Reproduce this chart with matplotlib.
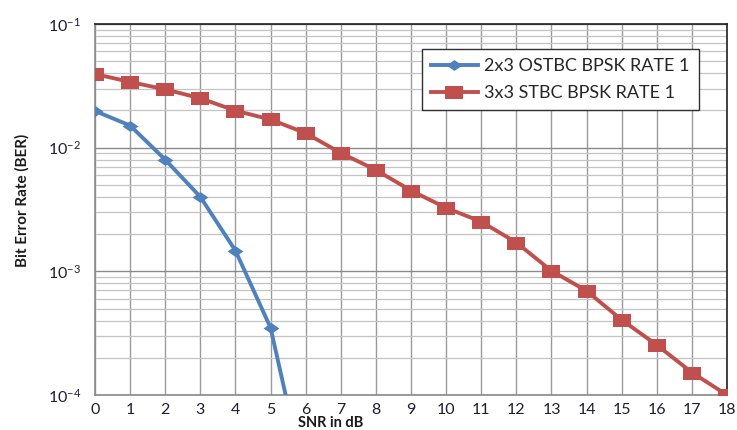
import matplotlib
matplotlib.use("Agg")
import matplotlib.pyplot as plt
from matplotlib.ticker import FixedLocator, NullFormatter, LogLocator

plt.rcParams['font.family'] = ['Lato', 'DejaVu Sans']
plt.rcParams['mathtext.fontset'] = 'custom'
plt.rcParams['mathtext.rm'] = 'Lato'
plt.rcParams['mathtext.it'] = 'Lato:italic'
plt.rcParams['mathtext.bf'] = 'Lato:bold'

# SNR axis and BER curves
snr_ostbc = [0, 1, 2, 3, 4, 5, 6]
ber_ostbc = [0.0198, 0.0151, 0.0080, 0.0040, 0.00147, 0.000350, 0.000019]

snr_stbc = list(range(0, 19))
ber_stbc = [0.0394, 0.0340, 0.0296, 0.0251, 0.0199, 0.0169, 0.0131, 0.00906,
            0.0066, 0.00450, 0.00326, 0.00252, 0.00171, 0.00101, 0.000695,
            0.000405, 0.000254, 0.000152, 0.000100]

label_ostbc = "2x3 OSTBC BPSK RATE 1"
label_stbc = "3x3 STBC BPSK RATE 1"
x_ticks = list(range(0, 19))
y_ticks = [1e-4, 1e-3, 1e-2, 1e-1]
y_tick_labels = ["$10^{-4}$", "$10^{-3}$", "$10^{-2}$", "$10^{-1}$"]

# slightly wide marker shapes
wide_square = [(-1, -0.72), (1, -0.72), (1, 0.72), (-1, 0.72), (-1, -0.72)]
wide_diamond = [(-1, 0), (0, -0.68), (1, 0), (0, 0.68), (-1, 0)]

fig = plt.figure(figsize=(7.37, 4.30), dpi=100)
ax = fig.add_axes([95/737, 1 - 395/430, (727 - 95)/737, (395 - 24)/430])

ax.set_yscale('log')
ax.set_xlim(0, 18)
ax.set_ylim(1e-4, 1e-1)

# gridlines: vertical at every dB, log major/minor horizontally
ax.xaxis.set_major_locator(FixedLocator(x_ticks))
ax.yaxis.set_major_locator(FixedLocator(y_ticks))
ax.yaxis.set_minor_locator(LogLocator(base=10, subs=range(2, 10)))
ax.yaxis.set_minor_formatter(NullFormatter())
ax.grid(True, which='major', axis='x', color='#9a9a9a', linewidth=1.0)
ax.grid(True, which='major', axis='y', color='#8a8a8a', linewidth=1.0)
ax.grid(True, which='minor', axis='y', color='#c4c4c4', linewidth=0.9)
ax.set_axisbelow(True)

ax.set_yticks(y_ticks)
ax.set_yticklabels(y_tick_labels)
ax.tick_params(axis='both', which='both', length=0, labelsize=11.5, colors='#1e1e2e')
ax.tick_params(axis='x', pad=6)
ax.tick_params(axis='y', pad=10)

for side in ['left', 'bottom']:
    ax.spines[side].set_color('#8a8a8a')
    ax.spines[side].set_linewidth(1.2)
for side in ['top', 'right']:
    ax.spines[side].set_color('#202020')
    ax.spines[side].set_linewidth(1.2)

ax.plot(snr_ostbc, ber_ostbc, color='#4f81bd', linewidth=2.8, marker=wide_diamond,
        markersize=11.5, markeredgewidth=0, label=label_ostbc, zorder=3)
ax.plot(snr_stbc, ber_stbc, color='#c0504d', linewidth=2.8, marker=wide_square,
        markersize=13, markeredgewidth=0, label=label_stbc, zorder=3)

leg = ax.legend(loc='upper left', bbox_to_anchor=(422/737, 1 - 49/430),
                bbox_transform=fig.transFigure, borderaxespad=0, fontsize=13,
                frameon=True, fancybox=False, edgecolor='#303030', framealpha=1,
                handlelength=2.6, borderpad=0.5, labelspacing=0.6,
                handletextpad=0.35)
leg.get_frame().set_linewidth(1.0)
for t in leg.get_texts():
    t.set_color('#262626')

fig.text(22/737, 1 - 200/430, "Bit Error Rate (BER)", rotation=90,
         ha='center', va='center', fontsize=11, fontweight='bold', color='#1a1a1a')
fig.text(331/737, 1 - 427/430, "SNR in dB", ha='center', va='baseline',
         fontsize=10.5, fontweight='bold', color='#1a1a1a')

fig.savefig("out.png", dpi=100)
